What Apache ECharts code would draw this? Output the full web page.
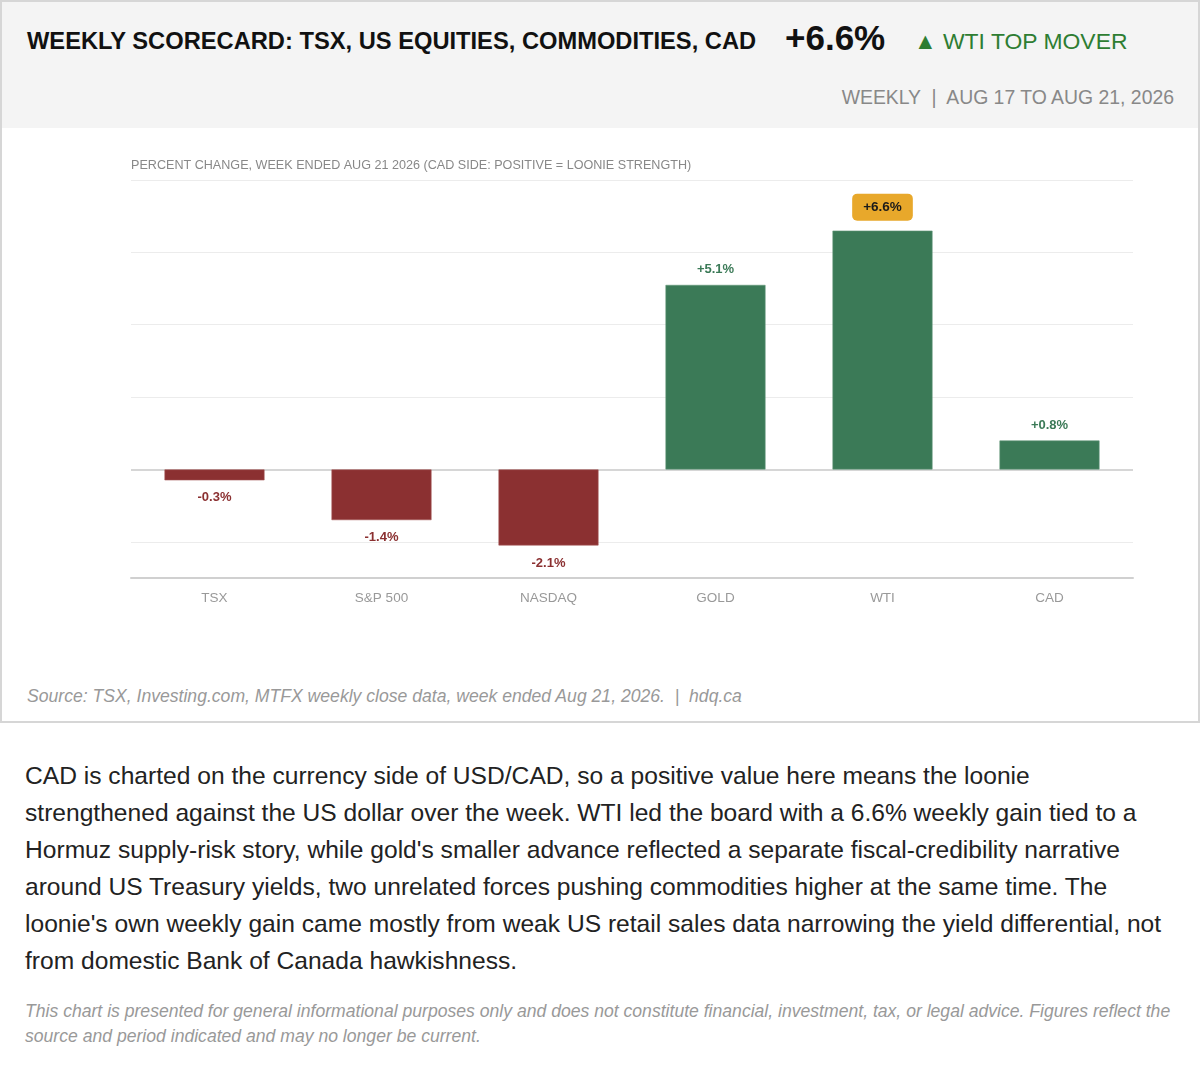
<!DOCTYPE html>
<html>
<head>
<meta charset="utf-8">
<script src="https://cdn.jsdelivr.net/npm/echarts@6/dist/echarts.min.js"></script>
<style>
  html, body { margin: 0; padding: 0; background: #fff; }
  body { font-family: "Liberation Sans", Arial, Helvetica, sans-serif; width: 1200px; height: 1087px; position: relative; overflow: hidden; }
  .header { position: absolute; left: 0; top: 0; width: 1196px; height: 126px; background: #f4f4f4; border: 2px solid #d6d6d6; }
  .title { position: absolute; left: 25px; top: 26px; font-size: 23.7px; font-weight: bold; color: #111; white-space: nowrap; }
  .big { position: absolute; left: 783px; top: 16px; font-size: 35px; font-weight: bold; color: #111; white-space: nowrap; }
  .mover { position: absolute; left: 912px; top: 26px; font-size: 22.9px; color: #2e7d32; white-space: nowrap; }
  .period { position: absolute; right: 24px; top: 84px; font-size: 19.4px; color: #888; white-space: nowrap; }
  .panel { position: absolute; left: 0; top: 128px; width: 1196px; height: 593px; border: 2px solid #d6d6d6; border-top: none; background: #fff; }
  #chart { position: absolute; left: 0; top: 0; width: 1196px; height: 540px; }
  .source { position: absolute; left: 25px; top: 558px; font-size: 17.6px; font-style: italic; color: #999; white-space: nowrap; }
  .body { position: absolute; left: 25px; top: 757px; width: 1150px; font-size: 24.6px; line-height: 37px; color: #222; }
  .disc { position: absolute; left: 25px; top: 999px; width: 1152px; font-size: 17.6px; line-height: 25px; font-style: italic; color: #999; }
</style>
</head>
<body>
<div class="header">
  <div class="title">WEEKLY SCORECARD: TSX, US EQUITIES, COMMODITIES, CAD</div>
  <div class="big">+6.6%</div>
  <div class="mover">▲ WTI TOP MOVER</div>
  <div class="period">WEEKLY &nbsp;|&nbsp; AUG 17 TO AUG 21, 2026</div>
</div>
<div class="panel">
  <div id="chart"></div>
  <div class="source">Source: TSX, Investing.com, MTFX weekly close data, week ended Aug 21, 2026. &nbsp;|&nbsp; hdq.ca</div>
</div>
<div class="body">CAD is charted on the currency side of USD/CAD, so a positive value here means the loonie strengthened against the US dollar over the week. WTI led the board with a 6.6% weekly gain tied to a Hormuz supply-risk story, while gold's smaller advance reflected a separate fiscal-credibility narrative around US Treasury yields, two unrelated forces pushing commodities higher at the same time. The loonie's own weekly gain came mostly from weak US retail sales data narrowing the yield differential, not from domestic Bank of Canada hawkishness.</div>
<div class="disc">This chart is presented for general informational purposes only and does not constitute financial, investment, tax, or legal advice. Figures reflect the source and period indicated and may no longer be current.</div>
<script>
const categories = ["TSX", "S&P 500", "NASDAQ", "GOLD", "WTI", "CAD"];
const weeklyChange = [-0.3, -1.4, -2.1, 5.1, 6.6, 0.8];
const gridValues = [-2, 2, 4, 6, 8];
const zeroValue = 0;
const subtitle = "PERCENT CHANGE, WEEK ENDED AUG 21 2026 (CAD SIDE: POSITIVE = LOONIE STRENGTH)";

const GREEN = "#3b7a57";
const RED = "#8b3031";
const FONT = "Liberation Sans, Arial, sans-serif";
const topIdx = weeklyChange.indexOf(Math.max.apply(null, weeklyChange));
const fmt = v => (v > 0 ? "+" : "") + v.toFixed(1) + "%";

const barData = weeklyChange.map((v, i) => {
  const pos = v >= 0;
  const item = {
    value: v,
    itemStyle: { color: pos ? GREEN : RED, borderColor: pos ? "#5f9677" : "#a25556", borderWidth: 0.6 },
    label: {
      show: true,
      position: pos ? "top" : "bottom",
      distance: pos ? 9 : 11,
      formatter: p => fmt(p.value),
      color: pos ? GREEN : RED,
      fontWeight: "bold",
      fontSize: 13,
      fontFamily: FONT
    }
  };
  if (i === topIdx) {
    item.label.backgroundColor = "#e8a82b";
    item.label.color = "#1a1a1a";
    item.label.fontSize = 13.5;
    item.label.padding = [7, 11, 6, 11];
    item.label.borderRadius = 5;
    item.label.distance = 10;
  }
  return item;
});

const chart = echarts.init(document.getElementById("chart"), null, { renderer: "canvas" });
chart.setOption({
  animation: false,
  title: {
    text: subtitle,
    left: 124,
    top: 26,
    textStyle: { fontSize: 12.6, fontWeight: "normal", color: "#888", fontFamily: FONT }
  },
  grid: { left: 129, right: 65, top: 52, bottom: 90 },
  xAxis: {
    type: "category",
    data: categories,
    axisLine: { onZero: false, lineStyle: { color: "#d0d0d0", width: 2 } },
    axisTick: { show: false },
    axisLabel: { color: "#999", fontSize: 13.5, margin: 13, fontFamily: FONT },
    splitLine: { show: false }
  },
  yAxis: {
    type: "value",
    min: -3,
    max: 8,
    axisLine: { show: false },
    axisTick: { show: false },
    axisLabel: { show: false },
    splitLine: { show: false }
  },
  series: [
    {
      type: "bar",
      data: barData,
      barWidth: 100,
      z: 3,
      markLine: {
        silent: true,
        z: 1,
        symbol: "none",
        label: { show: false },
        animation: false,
        data: gridValues.map(v => ({ yAxis: v, lineStyle: { color: "#ececec", width: 1, type: "solid" } }))
          .concat([{ yAxis: zeroValue, lineStyle: { color: "#c8c8c8", width: 1.5, type: "solid" } }])
      }
    }
  ]
});
</script>
</body>
</html>
